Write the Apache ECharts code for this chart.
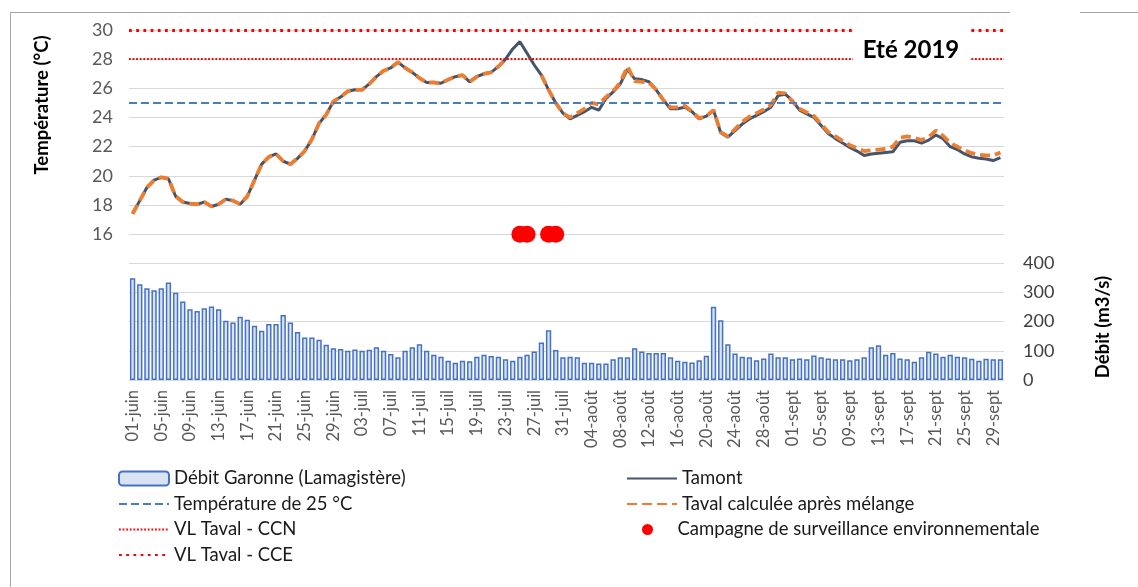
<!DOCTYPE html>
<html lang="fr">
<head>
<meta charset="utf-8">
<script src="https://cdn.jsdelivr.net/npm/echarts@6/dist/echarts.min.js"></script>
<style>
  html, body { margin: 0; padding: 0; background: #fff; }
  #chart { width: 1138px; height: 587px; }
</style>
</head>
<body>
<div id="chart"></div>
<script>
// Jours de l'été 2019 (juin à septembre)
const mois = [['juin', 30], ['juil', 31], ['août', 31], ['sept', 30]];
const jours = [];
mois.forEach(([nom, n]) => {
  for (let d = 1; d <= n; d++) jours.push(String(d).padStart(2, '0') + '-' + nom);
});

// Débit de la Garonne à Lamagistère (m3/s)
const debit = [
  349, 328, 315, 308, 315, 334, 299, 269, 243, 237, 246, 252, 243, 203, 197, 217, 207, 186, 169, 192,
  192, 223, 197, 165, 146, 146, 138, 121, 109, 106, 100, 105, 100, 104, 112, 100, 89, 78, 100, 112,
  123, 100, 87, 80, 66, 59, 66, 64, 80, 87, 82, 80, 71, 66, 80, 87, 98, 129, 171, 103,
  78, 80, 78, 59, 59, 57, 57, 71, 78, 78, 109, 98, 93, 93, 93, 78, 66, 63, 60, 68,
  83, 251, 205, 123, 91, 80, 78, 68, 74, 91, 78, 78, 71, 74, 71, 84, 78, 74, 71, 71,
  68, 71, 78, 112, 119, 87, 93, 74, 71, 63, 78, 97, 91, 80, 87, 80, 78, 73, 66, 73,
  71, 71
];

// Température amont (°C)
const tamont = [
  17.4, 18.3, 19.2, 19.7, 19.9, 19.8, 18.6, 18.2, 18.1, 18.05, 18.2, 17.9, 18.05, 18.4, 18.3, 18.05, 18.6, 19.7, 20.8, 21.3,
  21.5, 21.0, 20.8, 21.2, 21.7, 22.5, 23.6, 24.2, 25.1, 25.4, 25.8, 25.9, 25.9, 26.3, 26.8, 27.2, 27.4, 27.8, 27.4, 27.1,
  26.7, 26.4, 26.4, 26.35, 26.6, 26.8, 26.9, 26.45, 26.8, 27.0, 27.1, 27.5, 28.0, 28.7, 29.2, 28.4, 27.6, 26.9, 25.9, 25.0,
  24.3, 23.9, 24.15, 24.4, 24.7, 24.5, 25.3, 25.75, 26.3, 27.3, 26.65, 26.6, 26.45, 25.9, 25.2, 24.6, 24.6, 24.7, 24.4, 23.9,
  24.1, 24.5, 22.95, 22.65, 23.1, 23.55, 23.9, 24.15, 24.4, 24.7, 25.5, 25.6, 25.15, 24.5, 24.25, 24.0, 23.45, 22.9, 22.55, 22.25,
  21.95, 21.7, 21.4, 21.5, 21.55, 21.6, 21.65, 22.3, 22.4, 22.4, 22.25, 22.45, 22.8, 22.55, 22.0, 21.8, 21.5, 21.3, 21.2, 21.15,
  21.05, 21.25
];

// Température aval calculée après mélange (°C)
const taval = [
  17.4, 18.3, 19.2, 19.7, 19.9, 19.8, 18.6, 18.2, 18.1, 18.05, 18.2, 17.9, 18.05, 18.4, 18.3, 18.05, 18.6, 19.7, 20.8, 21.3,
  21.5, 21.0, 20.8, 21.2, 21.7, 22.5, 23.6, 24.2, 25.1, 25.4, 25.8, 25.9, 25.9, 26.3, 26.8, 27.2, 27.4, 27.8, 27.4, 27.1,
  26.7, 26.4, 26.4, 26.35, 26.6, 26.8, 26.9, 26.45, 26.8, 27.0, 27.1, 27.5, 28.0, null, null, null, null, 26.9, 25.9, 25.0,
  24.3, 24.0, 24.3, 24.6, 25.0, 24.9, 25.4, 25.8, 26.4, 27.5, 26.5, 26.45, 26.4, 25.9, 25.2, 24.7, 24.7, 24.8, 24.4, 23.95,
  24.1, 24.5, 23.0, 22.7, 23.2, 23.7, 24.05, 24.3, 24.55, 24.85, 25.7, 25.65, 25.1, 24.6, 24.35, 24.1, 23.55, 23.0, 22.7, 22.4,
  22.1, 21.9, 21.7, 21.75, 21.8, 21.85, 22.0, 22.6, 22.7, 22.6, 22.45, 22.65, 23.1, 22.75, 22.25, 22.0, 21.75, 21.55, 21.45, 21.4,
  21.4, 21.6
];

// Jours de campagne de surveillance environnementale
const campagneJours = ['25-juil', '26-juil', '29-juil', '30-juil'];
const campagneNiveau = 16;

// Seuils (°C)
const seuilTemp = 25;
const vlCCN = 28;
const vlCCE = 30;

const FONT = 'Lato, "Liberation Sans", sans-serif';

const noms = {
  debit: 'Débit Garonne (Lamagistère)',
  seuil: 'Température de 25 °C',
  ccn: 'VL Taval - CCN',
  cce: 'VL Taval - CCE',
  tamont: 'Tamont',
  taval: 'Taval calculée après mélange',
  campagne: 'Campagne de surveillance environnementale'
};

function seuilSerie(name, value, style) {
  return {
    name: name,
    type: 'line',
    yAxisIndex: 0,
    data: [],
    symbol: 'none',
    itemStyle: { color: style.color },
    lineStyle: style,
    markLine: {
      silent: true,
      symbol: ['none', 'none'],
      label: { show: false },
      lineStyle: style,
      data: [{ yAxis: value }]
    }
  };
}

// Une légende par entrée, placées sur deux colonnes
function legende(name, left, centreY, extra) {
  return Object.assign({
    data: [name],
    left: left,
    top: centreY - 9,
    padding: 0,
    itemWidth: 50,
    itemHeight: 14,
    selectedMode: false,
    textStyle: { fontSize: 18.5, color: '#1a1a1a', fontFamily: FONT, lineHeight: 18 }
  }, extra || {});
}
// entrées de type ligne : on masque le symbole, seul le trait reste
const sansSymbole = { itemStyle: { opacity: 0, color: 'rgba(0,0,0,0)', borderWidth: 0 } };

const chart = echarts.init(document.getElementById('chart'), null, { renderer: 'canvas' });

chart.setOption({
  animation: false,
  backgroundColor: '#ffffff',
  textStyle: { fontFamily: FONT },
  grid: { left: 129, right: 134, top: 30, bottom: 207, containLabel: false },
  xAxis: {
    type: 'category',
    data: jours,
    boundaryGap: true,
    axisLine: { lineStyle: { color: '#d9d9d9', width: 1 } },
    axisTick: { show: false },
    axisLabel: { interval: 3, rotate: 90, color: '#595959', fontSize: 16.5, margin: 10, fontFamily: FONT },
    splitLine: { show: false }
  },
  yAxis: [
    {
      type: 'value',
      min: 6, max: 30, interval: 2,
      axisLine: { show: false },
      axisTick: { show: false },
      axisLabel: {
        color: '#595959', fontSize: 18, margin: 16, fontFamily: FONT,
        formatter: v => (v >= 16 ? String(v) : '')
      },
      splitLine: { lineStyle: { color: '#d9d9d9', width: 1 } }
    },
    {
      type: 'value',
      position: 'right',
      min: 0, max: 1200, interval: 100,
      axisLine: { show: false },
      axisTick: { show: false },
      axisLabel: {
        color: '#404040', fontSize: 18, margin: 19, fontFamily: FONT,
        formatter: v => (v <= 400 ? String(v) : '')
      },
      splitLine: { show: false }
    }
  ],
  legend: [
    legende(noms.debit, 118, 478),
    legende(noms.seuil, 118, 503.5, sansSymbole),
    legende(noms.ccn, 118, 529, sansSymbole),
    legende(noms.cce, 118, 554.5, sansSymbole),
    legende(noms.tamont, 626, 478, sansSymbole),
    legende(noms.taval, 626, 503.5, sansSymbole),
    legende(noms.campagne, 642, 529, { itemHeight: 11 })
  ],
  series: [
    {
      name: noms.debit,
      type: 'bar',
      yAxisIndex: 1,
      data: debit,
      barCategoryGap: '26%',
      itemStyle: { color: '#dae3f3', borderColor: '#4472c4', borderWidth: 1.5 }
    },
    seuilSerie(noms.seuil, seuilTemp, { color: '#4a7ebb', width: 2, type: [8, 4] }),
    seuilSerie(noms.ccn, vlCCN, { color: '#ff0000', width: 1.8, type: [1.8, 1.8] }),
    seuilSerie(noms.cce, vlCCE, { color: '#ff0000', width: 2.8, type: [2.8, 4.4] }),
    {
      name: noms.tamont,
      type: 'line',
      yAxisIndex: 0,
      data: tamont,
      symbol: 'none',
      itemStyle: { color: '#44546a' },
      lineStyle: { color: '#44546a', width: 3 }
    },
    {
      name: noms.taval,
      type: 'line',
      yAxisIndex: 0,
      data: taval,
      symbol: 'none',
      connectNulls: false,
      itemStyle: { color: '#ed7d31' },
      lineStyle: { color: '#ed7d31', width: 3.8, type: [10, 5] }
    },
    {
      name: noms.campagne,
      type: 'scatter',
      yAxisIndex: 0,
      data: campagneJours.map(j => [j, campagneNiveau]),
      symbol: 'circle',
      symbolSize: 17,
      itemStyle: { color: '#ff0000', opacity: 1 },
      z: 5
    }
  ],
  graphic: [
    // cadre du graphique
    { type: 'line', z: 100, shape: { x1: 10.5, y1: 12, x2: 10.5, y2: 587 }, style: { stroke: '#a6a6a6', lineWidth: 1 } },
    { type: 'line', z: 100, shape: { x1: 10, y1: 12.5, x2: 1010, y2: 12.5 }, style: { stroke: '#a6a6a6', lineWidth: 1 } },
    { type: 'line', z: 100, shape: { x1: 1080, y1: 12.5, x2: 1138, y2: 12.5 }, style: { stroke: '#a6a6a6', lineWidth: 1 } },
    // titres des axes
    {
      type: 'text', z: 100, x: 42, y: 105, rotation: Math.PI / 2,
      style: { text: 'Température (°C)', fill: '#000', font: 'bold 18.5px ' + FONT, textAlign: 'center', textVerticalAlign: 'middle' }
    },
    {
      type: 'text', z: 100, x: 1103, y: 327, rotation: Math.PI / 2,
      style: { text: 'Débit (m3/s)', fill: '#000', font: 'bold 18.5px ' + FONT, textAlign: 'center', textVerticalAlign: 'middle' }
    },
    // étiquette de la saison
    { type: 'rect', z: 100, shape: { x: 853, y: 22, width: 117, height: 42 }, style: { fill: '#ffffff' } },
    {
      type: 'text', z: 101, x: 911, y: 50,
      style: { text: 'Eté 2019', fill: '#000', font: 'bold 24px ' + FONT, textAlign: 'center', textVerticalAlign: 'middle' }
    }
  ]
});
</script>
</body>
</html>
